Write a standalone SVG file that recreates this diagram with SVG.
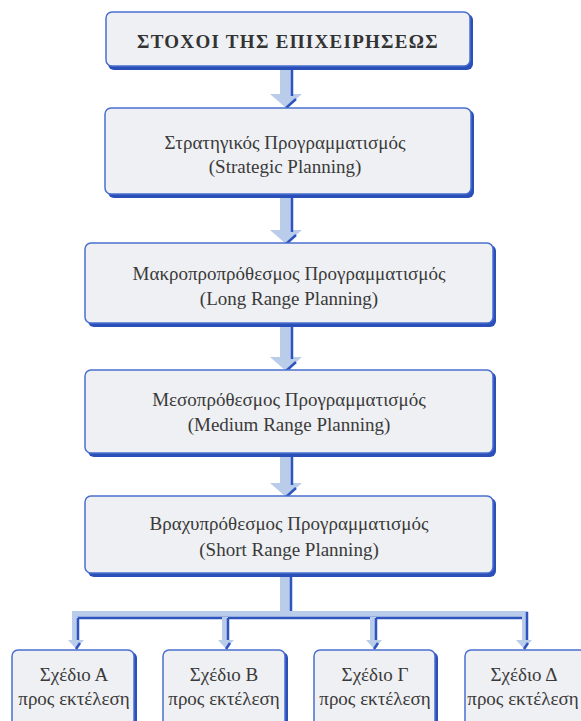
<svg xmlns="http://www.w3.org/2000/svg" width="581" height="721" viewBox="0 0 581 721">
<style>
.bg{fill:#ffffff}
.box{fill:#eef0f3;stroke:#4a6fd0;stroke-width:1.5}
.sh{fill:#2a4fb8}
.t{font-family:'Liberation Serif','DejaVu Serif',serif;font-size:19px;fill:#3a3a3a;text-anchor:middle}
.tb{font-family:'Liberation Serif','DejaVu Serif',serif;font-size:19px;font-weight:bold;fill:#333333;text-anchor:middle;letter-spacing:1.3px}
.lt{fill:#b9cdea}
.dk{stroke:#2f54c0;stroke-width:2.5;fill:none}
</style>
<rect class="bg" x="0" y="0" width="581" height="721"/>
<g id="connectors">
  <rect class="lt" x="280" y="68" width="12" height="26"/>
  <polygon class="lt" points="270,94 302,94 286,108"/>
  <line class="dk" x1="292" y1="68" x2="292" y2="96"/>
  <line class="dk" x1="296" y1="99" x2="286" y2="108"/>
  <rect class="lt" x="280" y="196" width="12" height="34"/>
  <polygon class="lt" points="270,230 302,230 286,244"/>
  <line class="dk" x1="292" y1="196" x2="292" y2="232"/>
  <line class="dk" x1="296" y1="235" x2="286" y2="244"/>
  <rect class="lt" x="280" y="325" width="12" height="32"/>
  <polygon class="lt" points="270,357 302,357 286,371"/>
  <line class="dk" x1="292" y1="325" x2="292" y2="359"/>
  <line class="dk" x1="296" y1="362" x2="286" y2="371"/>
  <rect class="lt" x="280" y="455" width="12" height="28"/>
  <polygon class="lt" points="270,483 302,483 286,497"/>
  <line class="dk" x1="292" y1="455" x2="292" y2="485"/>
  <line class="dk" x1="296" y1="488" x2="286" y2="497"/>
  <rect class="lt" x="280" y="576" width="10" height="36"/>
  <line class="dk" x1="291" y1="576" x2="291" y2="612"/>
  <rect class="lt" x="72" y="611" width="456" height="6"/>
  <line class="dk" x1="77" y1="618" x2="525" y2="618"/>
  <rect class="lt" x="72" y="617" width="6" height="27"/>
  <line class="dk" x1="78" y1="618" x2="78" y2="643"/>
  <polygon class="lt" points="68,640 84,640 76,649"/>
  <line class="dk" x1="80" y1="643" x2="76" y2="649"/>
  <rect class="lt" x="222" y="617" width="6" height="27"/>
  <line class="dk" x1="228" y1="618" x2="228" y2="643"/>
  <polygon class="lt" points="218,640 234,640 226,649"/>
  <line class="dk" x1="230" y1="643" x2="226" y2="649"/>
  <rect class="lt" x="370" y="617" width="6" height="27"/>
  <line class="dk" x1="376" y1="618" x2="376" y2="643"/>
  <polygon class="lt" points="366,640 382,640 374,649"/>
  <line class="dk" x1="378" y1="643" x2="374" y2="649"/>
  <rect class="lt" x="522" y="611" width="6" height="33"/>
  <line class="dk" x1="527" y1="612" x2="527" y2="643"/>
  <polygon class="lt" points="516,640 532,640 524,649"/>
  <line class="dk" x1="528" y1="643" x2="524" y2="649"/>
</g>
<g id="n1">
  <rect class="sh" x="108" y="14" width="365" height="56" rx="6"/>
  <rect class="box" x="106" y="12" width="364" height="54" rx="6"/>
  <text class="tb" x="288" y="48">ΣΤΟΧΟΙ ΤΗΣ ΕΠΙΧΕΙΡΗΣΕΩΣ</text>
</g>
<g id="n2">
  <rect class="sh" x="108" y="110" width="366" height="88" rx="6"/>
  <rect class="box" x="105" y="108" width="366" height="86" rx="6"/>
  <text class="t" x="285" y="149">Στρατηγικός Προγραμματισμός</text>
  <text class="t" x="285" y="173">(Strategic Planning)</text>
</g>
<g id="n3">
  <rect class="sh" x="88" y="245" width="408" height="82" rx="6"/>
  <rect class="box" x="85" y="243" width="408" height="80" rx="6"/>
  <text class="t" x="289" y="280">Μακροπροπρόθεσμος Προγραμματισμός</text>
  <text class="t" x="289" y="305">(Long Range Planning)</text>
</g>
<g id="n4">
  <rect class="sh" x="88" y="372" width="408" height="85" rx="6"/>
  <rect class="box" x="85" y="370" width="408" height="83" rx="6"/>
  <text class="t" x="289" y="406">Μεσοπρόθεσμος Προγραμματισμός</text>
  <text class="t" x="289" y="431">(Medium Range Planning)</text>
</g>
<g id="n5">
  <rect class="sh" x="88" y="498" width="408" height="79" rx="6"/>
  <rect class="box" x="85" y="496" width="408" height="77" rx="6"/>
  <text class="t" x="289" y="530">Βραχυπρόθεσμος Προγραμματισμός</text>
  <text class="t" x="289" y="556">(Short Range Planning)</text>
</g>
<g id="nA">
  <rect class="sh" x="15" y="652" width="122" height="80" rx="6"/>
  <rect class="box" x="12" y="650" width="122" height="80" rx="6"/>
  <text class="t" x="74" y="681">Σχέδιο Α</text>
  <text class="t" x="74" y="705">προς εκτέλεση</text>
</g>
<g id="nB">
  <rect class="sh" x="166" y="652" width="122" height="80" rx="6"/>
  <rect class="box" x="163" y="650" width="122" height="80" rx="6"/>
  <text class="t" x="224" y="681">Σχέδιο Β</text>
  <text class="t" x="224" y="705">προς εκτέλεση</text>
</g>
<g id="nC">
  <rect class="sh" x="317" y="652" width="121" height="80" rx="6"/>
  <rect class="box" x="314" y="650" width="121" height="80" rx="6"/>
  <text class="t" x="375" y="681">Σχέδιο Γ</text>
  <text class="t" x="375" y="705">προς εκτέλεση</text>
</g>
<g id="nD">
  <rect class="sh" x="468" y="652" width="124" height="80" rx="6"/>
  <rect class="box" x="465" y="650" width="124" height="80" rx="6"/>
  <text class="t" x="524" y="681">Σχέδιο Δ</text>
  <text class="t" x="523" y="705">προς εκτέλεση</text>
</g>
</svg>
